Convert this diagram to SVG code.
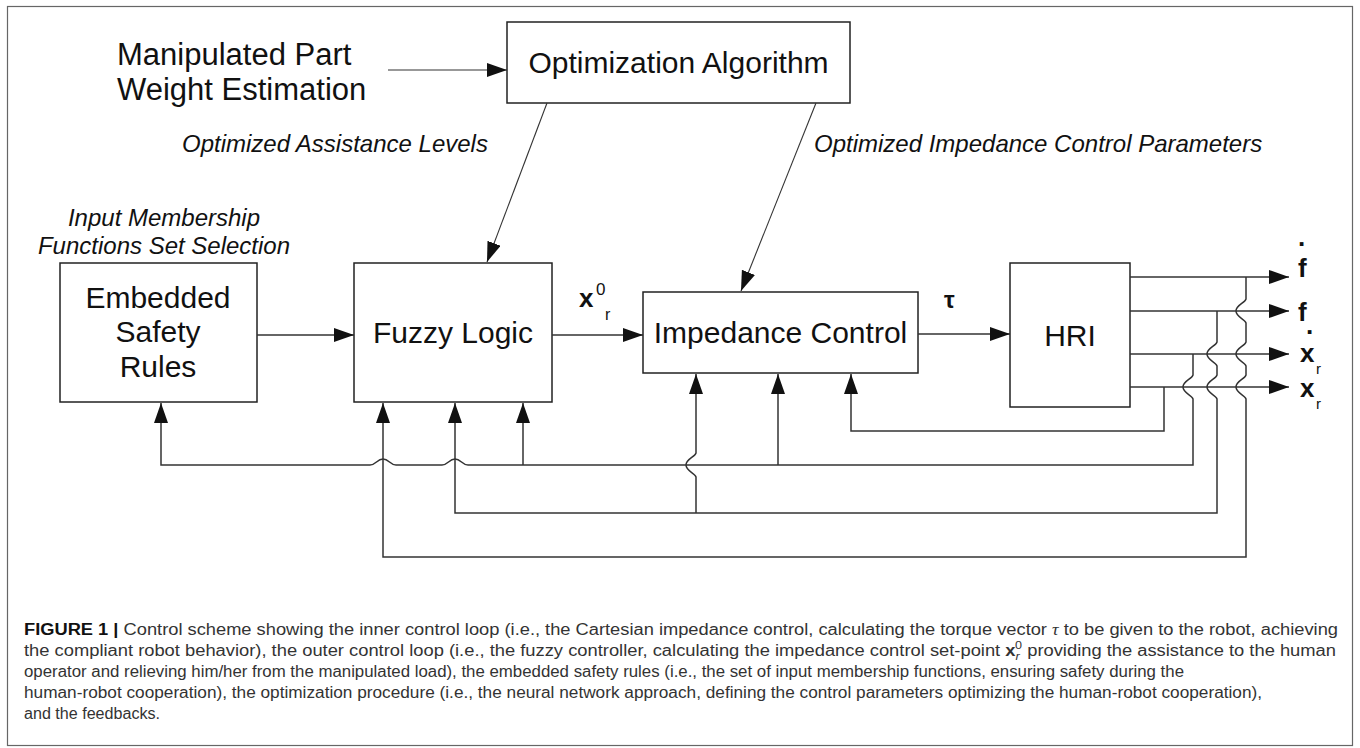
<svg xmlns="http://www.w3.org/2000/svg" width="1360" height="748" viewBox="0 0 1360 748">
<defs>
<style>
.t{font-family:"Liberation Sans",Arial,sans-serif;fill:#111}
.big{font-size:30px}
.it{font-size:24px;font-style:italic}
.box{fill:#fff;stroke:#222;stroke-width:1.5}
.ln{fill:none;stroke:#333;stroke-width:1.5}
.thin{fill:none;stroke:#333;stroke-width:1.1}
.lbl{font-size:26px;font-weight:bold}
.cap{font-family:"Liberation Sans",Arial,sans-serif;font-size:16px;fill:#333}
</style>
<marker id="ah" markerUnits="userSpaceOnUse" markerWidth="22" markerHeight="16" refX="20" refY="7" orient="auto">
<path d="M0,0 L20,7 L0,14 z" fill="#111"/>
</marker>
</defs>
<rect x="0" y="0" width="1360" height="748" fill="#fff"/>
<rect x="7.5" y="6.5" width="1345" height="739" fill="none" stroke="#666" stroke-width="1.2"/>

<g id="input-weight">
<text class="t" x="117" y="65" font-size="31">Manipulated Part</text>
<text class="t" x="117" y="100" font-size="31">Weight Estimation</text>
</g>
<g id="optimization">
<rect class="box" x="507" y="22" width="343" height="81"/>
<text class="t big" x="678.5" y="73" text-anchor="middle">Optimization Algorithm</text>
</g>
<g id="labels-opt">
<text class="t it" x="182" y="152">Optimized Assistance Levels</text>
<text class="t it" x="814" y="152">Optimized Impedance Control Parameters</text>
<text class="t it" x="164" y="226" text-anchor="middle">Input Membership</text>
<text class="t it" x="164" y="254" text-anchor="middle">Functions Set Selection</text>
</g>
<g id="safety">
<rect class="box" x="60" y="263" width="197" height="139"/>
<text class="t big" x="158" y="308" text-anchor="middle">Embedded</text>
<text class="t big" x="158" y="342" text-anchor="middle">Safety</text>
<text class="t big" x="158" y="377" text-anchor="middle">Rules</text>
</g>
<g id="fuzzy">
<rect class="box" x="354" y="263" width="198" height="139"/>
<text class="t big" x="453" y="343" text-anchor="middle">Fuzzy Logic</text>
</g>
<g id="impedance">
<rect class="box" x="643" y="292" width="275" height="81"/>
<text class="t big" x="780.5" y="343" text-anchor="middle">Impedance Control</text>
</g>
<g id="hri">
<rect class="box" x="1010" y="263" width="120" height="144"/>
<text class="t big" x="1070" y="346" text-anchor="middle">HRI</text>
</g>
<g id="signal-labels">
<text class="t" x="579" y="307" font-size="26" font-weight="bold">x</text>
<text class="t" x="596" y="295" font-size="17">0</text>
<text class="t" x="605" y="320" font-size="16">r</text>
<text class="t" x="944" y="308" font-size="24" font-weight="bold">τ</text>
<text class="t lbl" x="1298" y="246">.</text>
<text class="t lbl" x="1298" y="277">f</text>
<text class="t lbl" x="1298" y="321">f</text>
<text class="t lbl" x="1306" y="334">.</text>
<text class="t lbl" x="1300" y="362">x</text>
<text class="t" x="1316" y="374" font-size="15">r</text>
<text class="t lbl" x="1300" y="397">x</text>
<text class="t" x="1316" y="409" font-size="15">r</text>
</g>

<g id="connectors">
<path class="thin" d="M388,70 H507" marker-end="url(#ah)"/>
<path class="thin" d="M547,103 L487,262" marker-end="url(#ah)"/>
<path class="thin" d="M816,103 L741,291" marker-end="url(#ah)"/>
<path class="ln" d="M257,335 H354" marker-end="url(#ah)"/>
<path class="ln" d="M552,335 H643" marker-end="url(#ah)"/>
<path class="ln" d="M918,334 H1010" marker-end="url(#ah)"/>
<path class="ln" d="M1130,277 H1289" marker-end="url(#ah)"/>
<path class="ln" d="M1130,311 H1289" marker-end="url(#ah)"/>
<path class="ln" d="M1130,354 H1289" marker-end="url(#ah)"/>
<path class="ln" d="M1130,387 H1289" marker-end="url(#ah)"/>
<!-- x feedback to impedance -->
<path class="ln" d="M1164,387 V431 H851 V374" marker-end="url(#ah)"/>
<!-- x-dot feedback -->
<path class="ln" d="M1193,354 V375 C1192,379 1183,381 1183,387 C1183,393 1192,395 1193,399 V465 H468 C462,465 461,459 455,459 C449,459 448,465 442,465 H396 C390,465 389,459 383,459 C377,459 376,465 370,465 H161 V403" marker-end="url(#ah)"/>
<path class="ln" d="M523,465 V403" marker-end="url(#ah)"/>
<path class="ln" d="M778,465 V374" marker-end="url(#ah)"/>
<!-- f feedback -->
<path class="ln" d="M1217,311 V342 C1216,346 1207,348 1207,354 C1207,360 1216,362 1217,366 V375 C1216,379 1207,381 1207,387 C1207,393 1216,395 1217,399 V513 H455 V403" marker-end="url(#ah)"/>
<path class="ln" d="M696,513 V477 C695,473 686,471 686,465 C686,459 695,457 696,453 V374" marker-end="url(#ah)"/>
<!-- f-dot feedback -->
<path class="ln" d="M1246,277 V299 C1245,303 1236,305 1236,311 C1236,317 1245,319 1246,323 V342 C1245,346 1236,348 1236,354 C1236,360 1245,362 1246,366 V375 C1245,379 1236,381 1236,387 C1236,393 1245,395 1246,399 V557 H383 V403" marker-end="url(#ah)"/>
</g>

<g id="caption">
<text class="cap" x="24" y="635" textLength="1314" lengthAdjust="spacingAndGlyphs"><tspan font-weight="bold" fill="#111">FIGURE 1 |</tspan> Control scheme showing the inner control loop (i.e., the Cartesian impedance control, calculating the torque vector <tspan font-family="Liberation Serif" font-style="italic">τ</tspan> to be given to the robot, achieving</text>
<text class="cap" x="24" y="656" textLength="1312" lengthAdjust="spacingAndGlyphs">the compliant robot behavior), the outer control loop (i.e., the fuzzy controller, calculating the impedance control set-point <tspan font-weight="bold">x</tspan><tspan font-style="italic" font-size="11" dy="4">r</tspan><tspan font-size="11" dx="-4" dy="-11">0</tspan><tspan dy="7"> providing the assistance to the human</tspan></text>
<text class="cap" x="24" y="677" textLength="1160" lengthAdjust="spacingAndGlyphs">operator and relieving him/her from the manipulated load), the embedded safety rules (i.e., the set of input membership functions, ensuring safety during the</text>
<text class="cap" x="24" y="698" textLength="1238" lengthAdjust="spacingAndGlyphs">human-robot cooperation), the optimization procedure (i.e., the neural network approach, defining the control parameters optimizing the human-robot cooperation),</text>
<text class="cap" x="24" y="719" textLength="136" lengthAdjust="spacingAndGlyphs">and the feedbacks.</text>
</g>
</svg>
